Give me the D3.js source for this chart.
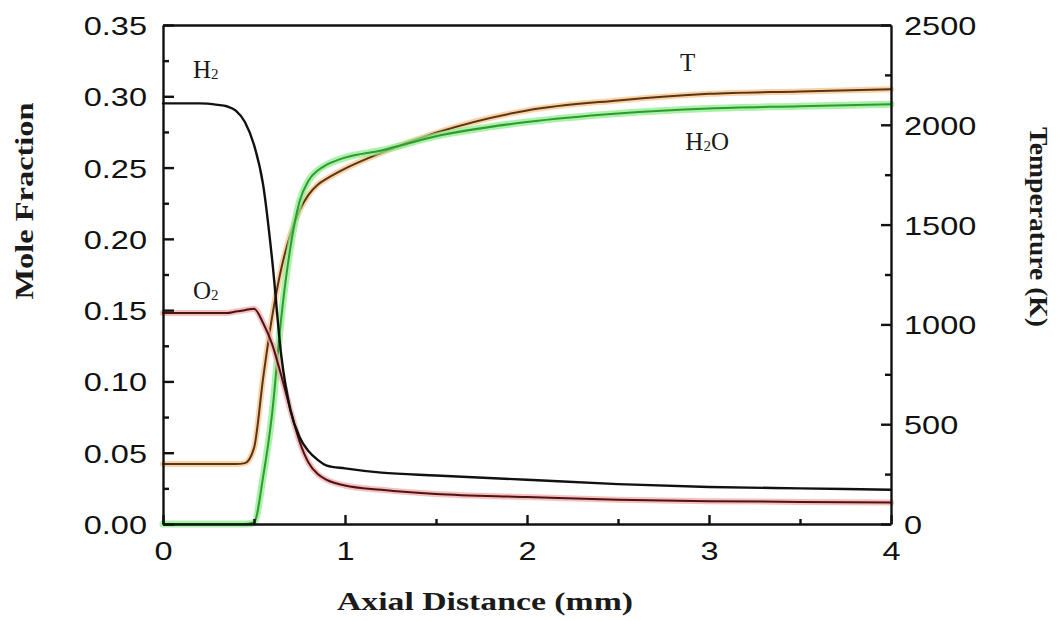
<!DOCTYPE html>
<html>
<head>
<meta charset="utf-8">
<script src="https://cdn.jsdelivr.net/npm/d3@7"></script>
<style>
  html, body { margin: 0; padding: 0; background: #fff; }
  svg { display: block; }
</style>
</head>
<body>
<svg id="chart" width="1060" height="621"></svg>
<script>
// ---- Data ----
const axialDistance = [0, 0.1, 0.2, 0.3, 0.35, 0.4, 0.45, 0.5, 0.55, 0.6, 0.65, 0.7, 0.75, 0.8, 0.85, 0.9, 1.0, 1.2, 1.5, 2.0, 2.5, 3.0, 3.5, 4.0];
const h2Fraction  = [0.295, 0.295, 0.295, 0.294, 0.293, 0.290, 0.282, 0.266, 0.238, 0.185, 0.118, 0.080, 0.061, 0.051, 0.045, 0.041, 0.039, 0.036, 0.034, 0.031, 0.028, 0.026, 0.025, 0.024];
const o2Fraction  = [0.148, 0.148, 0.148, 0.148, 0.148, 0.149, 0.150, 0.151, 0.141, 0.126, 0.104, 0.080, 0.058, 0.043, 0.035, 0.031, 0.027, 0.024, 0.021, 0.019, 0.017, 0.016, 0.0155, 0.015];
const h2oFraction = [0, 0, 0, 0, 0, 0, 0, 0.001, 0.033, 0.078, 0.145, 0.194, 0.226, 0.241, 0.248, 0.252, 0.257, 0.262, 0.272, 0.282, 0.288, 0.2915, 0.293, 0.2945];
const temperature = [300, 300, 300, 300, 300, 300, 305, 380, 730, 1040, 1280, 1450, 1570, 1650, 1700, 1730, 1780, 1860, 1960, 2072, 2122, 2155, 2167, 2178];

const xTickValues = [0, 1, 2, 3, 4];
const xMinorTicks = [0.5, 1.5, 2.5, 3.5];
const yTickValues = [0, 0.05, 0.10, 0.15, 0.20, 0.25, 0.30, 0.35];
const yMinorTicks = [0.025, 0.075, 0.125, 0.175, 0.225, 0.275, 0.325];
const tTickValues = [0, 500, 1000, 1500, 2000, 2500];
const tMinorTicks = [250, 750, 1250, 1750, 2250];

const seriesLabels = [
  { name: "H", sub: "2", after: "", x: 0.165, y: 0.3128 },
  { name: "O", sub: "2", after: "", x: 0.165, y: 0.1575 },
  { name: "T", sub: "", after: "", x: 2.84, y: 0.3175 },
  { name: "H", sub: "2", after: "O", x: 2.87, y: 0.262 }
];

// ---- Layout ----
const L = 163, R = 891, T = 25, B = 524;
const svg = d3.select("#chart");

const x = d3.scaleLinear().domain([0, 4]).range([L, R]);
const y = d3.scaleLinear().domain([0, 0.35]).range([B, T]);
const yT = d3.scaleLinear().domain([0, 2500]).range([B, T]);

const sansFont = "'Liberation Sans', Arial, sans-serif";
const serifFont = "'Liberation Serif', 'Times New Roman', serif";

// ---- Curves ----
function drawSeries(values, scale, halo, haloW, core, coreW) {
  const data = axialDistance.map((d, i) => [d, values[i]]);
  const line = d3.line().x(d => x(d[0])).y(d => scale(d[1])).curve(d3.curveMonotoneX);
  if (halo) {
    svg.append("path").attr("d", line(data)).attr("fill", "none")
      .attr("stroke", halo).attr("stroke-width", haloW).attr("stroke-opacity", 0.75)
      .attr("stroke-linejoin", "round").attr("stroke-linecap", "round");
  }
  svg.append("path").attr("d", line(data)).attr("fill", "none")
    .attr("stroke", core).attr("stroke-width", coreW)
    .attr("stroke-linejoin", "round").attr("stroke-linecap", "round");
}
drawSeries(temperature, yT, "#f7c48a", 6, "#5a3414", 2);
drawSeries(h2oFraction, y, "#8eec8e", 7, "#2f9a2f", 2);
drawSeries(o2Fraction, y, "#f3a9a9", 6, "#4d1212", 2);
drawSeries(h2Fraction, y, null, 0, "#111", 2.4);

// ---- Axes ----
function styleAxis(g) {
  g.selectAll("path.domain").attr("stroke", "#111").attr("stroke-width", 2.4);
  g.selectAll(".tick line").attr("stroke", "#111").attr("stroke-width", 2.4);
}
function styleLabels(g, size, stretch) {
  g.selectAll(".tick text")
    .attr("font-family", sansFont).attr("font-size", size).attr("fill", "#111")
    .each(function () {
      const w = this.getComputedTextLength();
      d3.select(this).attr("textLength", w * stretch).attr("lengthAdjust", "spacingAndGlyphs");
    });
}

// minor ticks
svg.append("g").attr("transform", `translate(${L},0)`)
  .call(d3.axisLeft(y).tickValues(yMinorTicks).tickSize(-6).tickFormat(() => "").tickSizeOuter(0))
  .call(styleAxis).call(g => g.select(".domain").remove());
svg.append("g").attr("transform", `translate(${R},0)`)
  .call(d3.axisRight(yT).tickValues(tMinorTicks).tickSize(-6).tickFormat(() => "").tickSizeOuter(0))
  .call(styleAxis).call(g => g.select(".domain").remove());
svg.append("g").attr("transform", `translate(0,${B})`)
  .call(d3.axisBottom(x).tickValues(xMinorTicks).tickSize(-5).tickFormat(() => "").tickSizeOuter(0))
  .call(styleAxis).call(g => g.select(".domain").remove());

// major axes
svg.append("g").attr("transform", `translate(${L},0)`)
  .call(d3.axisLeft(y).tickValues(yTickValues).tickSize(-11).tickPadding(16).tickFormat(d3.format(".2f")).tickSizeOuter(0))
  .call(styleAxis).call(g => styleLabels(g, 25, 1.3))
  .call(g => g.selectAll(".tick text").attr("dy", "0.38em"));
svg.append("g").attr("transform", `translate(${R},0)`)
  .call(d3.axisRight(yT).tickValues(tTickValues).tickSize(-10).tickPadding(13).tickFormat(d3.format("d")).tickSizeOuter(0))
  .call(styleAxis).call(g => styleLabels(g, 25, 1.3))
  .call(g => g.selectAll(".tick text").attr("dy", "0.38em"));
svg.append("g").attr("transform", `translate(0,${B})`)
  .call(d3.axisBottom(x).tickValues(xTickValues).tickSize(-9).tickPadding(18).tickFormat(d3.format("d")).tickSizeOuter(0))
  .call(styleAxis).call(g => styleLabels(g, 25, 1.3));
// top frame
svg.append("g").attr("transform", `translate(0,${T})`)
  .call(d3.axisTop(x).tickValues([]).tickSizeOuter(0))
  .call(styleAxis);

// ---- Titles ----
svg.append("text")
  .attr("transform", "translate(33,201) rotate(-90)")
  .attr("text-anchor", "middle")
  .attr("font-family", serifFont).attr("font-weight", "bold").attr("font-size", 26).attr("fill", "#1a1a1a")
  .attr("textLength", 197).attr("lengthAdjust", "spacingAndGlyphs")
  .text("Mole Fraction");
svg.append("text")
  .attr("transform", "translate(1030,227) rotate(90)")
  .attr("text-anchor", "middle")
  .attr("font-family", serifFont).attr("font-weight", "bold").attr("font-size", 26).attr("fill", "#1a1a1a")
  .attr("textLength", 200).attr("lengthAdjust", "spacingAndGlyphs")
  .text("Temperature (K)");
svg.append("text")
  .attr("x", 485).attr("y", 610)
  .attr("text-anchor", "middle")
  .attr("font-family", serifFont).attr("font-weight", "bold").attr("font-size", 26).attr("fill", "#1a1a1a")
  .attr("textLength", 296).attr("lengthAdjust", "spacingAndGlyphs")
  .text("Axial Distance (mm)");

// ---- Series labels ----
seriesLabels.forEach(l => {
  const t = svg.append("text")
    .attr("x", x(l.x)).attr("y", y(l.y))
    .attr("font-family", serifFont).attr("font-size", 25).attr("fill", "#1a1a1a");
  t.append("tspan").text(l.name);
  if (l.sub) t.append("tspan").attr("font-size", 15).attr("dy", 1).text(l.sub);
  if (l.after) t.append("tspan").attr("dy", -1).text(l.after);
});
</script>
</body>
</html>
